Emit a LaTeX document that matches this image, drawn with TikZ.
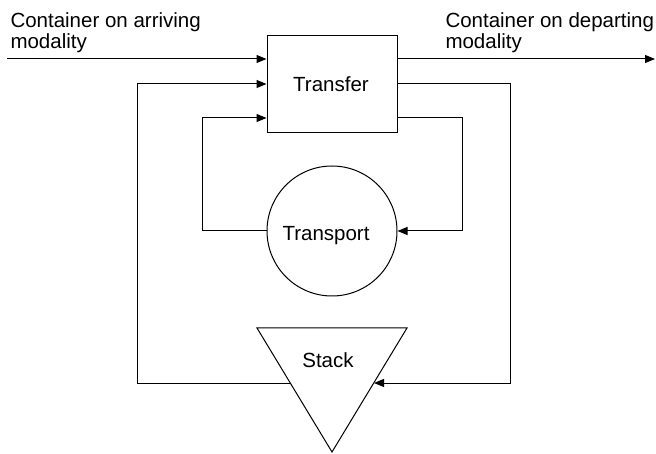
\documentclass[tikz,border=0pt]{standalone}
\usepackage{fontspec}
\setmainfont{Liberation Sans}
\usetikzlibrary{arrows.meta}
\begin{document}
\begin{tikzpicture}[x=1pt,y=-1pt,line width=1pt,
  conn/.style={draw,-{Triangle[length=10pt,width=8pt]}},
  txt/.style={font=\fontsize{20.5}{21}\selectfont,inner sep=0pt},
  toplbl/.style={txt,anchor=north west,align=left}]
\useasboundingbox (0,0) rectangle (656,454);
% shapes
\node[draw,minimum width=130pt,minimum height=97pt,inner sep=0pt] (transfer) at (332,84.5) {};
\node[draw,circle,minimum size=130pt,inner sep=0pt] (transport) at (332,231) {};
\coordinate (stl) at (257,328);
\coordinate (str) at (407,328);
\coordinate (stb) at (332,452);
\draw[line join=miter] (stl) -- (str) -- (stb) -- cycle;
% labels
\node[txt,anchor=base] (transferlbl) at (331,92) {Transfer};
\node[txt,anchor=base] (transportlbl) at (326,241) {Transport};
\node[txt,anchor=base] (stacklbl) at (328,367) {Stack};
\node[toplbl] (arrlbl) at (10,12) {Container on arriving\\modality};
\node[toplbl] (deplbl) at (445,12) {Container on departing\\modality};
% connector coordinates
\coordinate (ain) at (7,59);
\coordinate (aout) at (655,59);
\coordinate (ol) at (137,84);
\coordinate (or) at (510,84);
\coordinate (il) at (202,118);
\coordinate (ir) at (462,118);
\coordinate (stackw) at (290,383);
\coordinate (stacke) at (374,383);
% connectors
\draw[conn] (ain) -- (ain -| transfer.west);
\draw[conn] (transfer.east |- aout) -- (aout);
\draw[conn] (stackw) -| (ol) -- (ol -| transfer.west);
\draw[conn] (transfer.east |- or) -- (or) |- (stacke);
\draw[conn] (transport.west) -| (il) -- (il -| transfer.west);
\draw[conn] (transfer.east |- ir) -- (ir) |- (transport.east);
\end{tikzpicture}
\end{document}
